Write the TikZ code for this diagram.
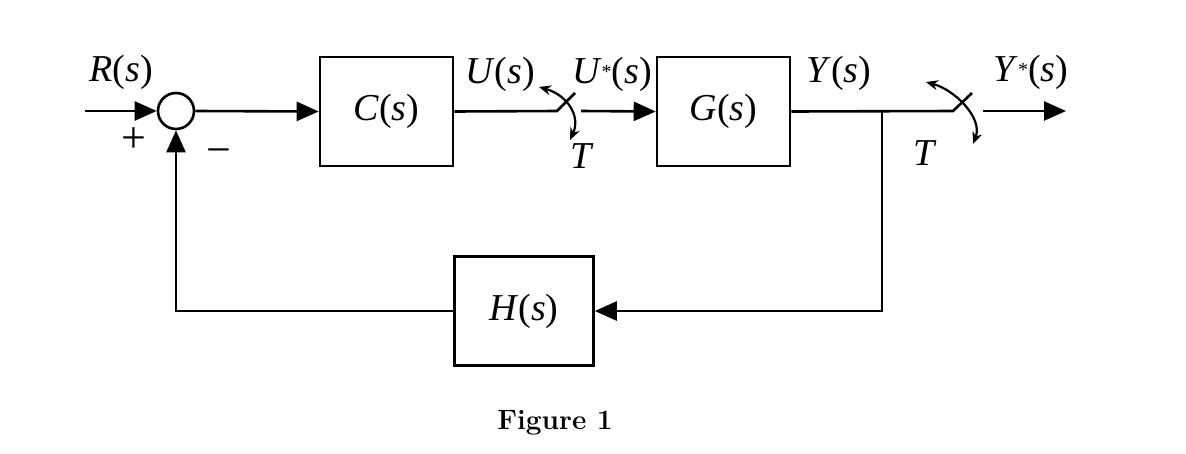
\documentclass[tikz,border=0pt]{standalone}
\usepackage{fontspec}
\newfontfamily\tim{Liberation Serif}
\usetikzlibrary{arrows.meta}
\begin{document}
\begin{tikzpicture}[x=1pt,y=-1pt,
  every path/.style={line width=2.6pt},
  blk/.style={draw, line width=2.6pt, minimum width=133pt, minimum height=109pt, inner sep=0pt, font=\tim\fontsize{38}{40}\selectfont},
  sumj/.style={draw, circle, line width=2.6pt, minimum size=36pt, inner sep=0pt},
  arr/.style={-{Triangle[length=22pt,width=19pt]}},
  swarr/.style={line width=2.2pt, {Stealth[length=12pt,width=10pt]}-{Stealth[length=12pt,width=10pt]}},
  lbl/.style={font=\tim\fontsize{38}{40}\selectfont, inner sep=0pt}
]
\useasboundingbox (0,0) rectangle (1186,453);
\node[sumj] (sum) at (176,111) {};
\node[blk] (C) at (386.5,111.5) {\textit{C}(\textit{s})};
\node[blk] (G) at (723.5,111.5) {\textit{G}(\textit{s})};
\node[blk, minimum width=139pt] (H) at (524,311) {\textit{H}(\textit{s})};
\coordinate (in) at (85,111);
\coordinate (s1a) at (557,111);
\coordinate (s1b) at (575,93);
\coordinate (s1o) at (581,111);
\coordinate (s2a) at (953,111);
\coordinate (s2b) at (972,93);
\coordinate (s2o) at (983,111);
\coordinate (out) at (1066,111);
\coordinate (br) at (882,111);
\coordinate (fb) at (882,311);
\coordinate (fbl) at (176,311);
\coordinate (c1a) at (539,87);
\coordinate (c1b) at (570,140);
\coordinate (c2a) at (926,82);
\coordinate (c2b) at (973,144);

\draw[arr] (in) -- (sum.west);
\draw[arr] (sum.east) -- (C.west);
\draw (C.east) -- (s1a) -- (s1b);
\draw[arr] (s1o) -- (G.west);
\draw (G.east) -- (s2a) -- (s2b);
\draw[arr] (s2o) -- (out);
\draw[arr] (br) -- (fb) -- (H.east);
\draw[arr] (H.west) -- (fbl) -- (sum.south);
\draw[swarr] (c1a) .. controls (567,95) and (581,116) .. (c1b);
\draw[swarr] (c2a) .. controls (955,90) and (983,118) .. (c2b);

\node[lbl] (lR) at (121,72) {\textit{R}(\textit{s})};
\node[lbl] (lU) at (500,74) {\textit{U}(\textit{s})};
\node[lbl] (lUs) at (612,74) {\textit{U}\raisebox{5pt}{\fontsize{20}{20}\selectfont *}(\textit{s})};
\node[lbl] (lT1) at (582,156) {\textit{T}};
\node[lbl] (lY) at (839,73) {\textit{Y}(\textit{s})};
\node[lbl] (lT2) at (925,153) {\textit{T}};
\node[lbl] (lYs) at (1031,72) {\textit{Y}\raisebox{5pt}{\fontsize{20}{20}\selectfont *}(\textit{s})};
\node[lbl, font=\tim\fontsize{44}{44}\selectfont] (lp) at (134,140) {+};
\node[lbl, font=\tim\fontsize{44}{44}\selectfont] (lm) at (219,157) {−};
\node[font=\bfseries\fontsize{28}{30}\selectfont, inner sep=0pt] (fig) at (555,423) {Figure 1};
\end{tikzpicture}
\end{document}
